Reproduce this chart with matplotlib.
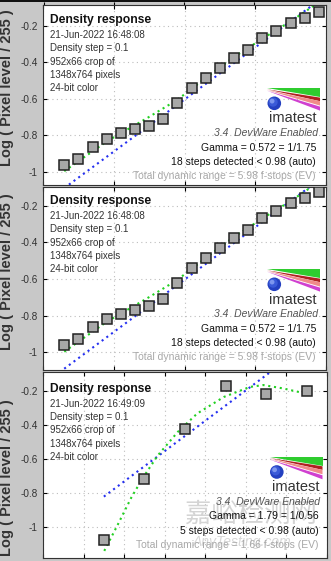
import matplotlib
matplotlib.use("Agg")
import matplotlib.pyplot as plt
from matplotlib.patches import Polygon, Ellipse
from matplotlib.ticker import FuncFormatter

plt.rcParams['font.family'] = ['Liberation Sans', 'DejaVu Sans']

W, H = 331, 561

# 18-step run (two identical screenshots): log exposure vs log pixel level
dens_a = [-1.85, -1.75, -1.65, -1.55, -1.45, -1.35, -1.25, -1.15, -1.05, -0.95,
          -0.85, -0.75, -0.65, -0.55, -0.45, -0.35, -0.25, -0.15, -0.05]
level_a = [-0.961, -0.930, -0.863, -0.820, -0.790, -0.768, -0.747, -0.711, -0.623,
           -0.540, -0.488, -0.430, -0.378, -0.332, -0.268, -0.230, -0.185, -0.157, -0.125]
green_a_x = [-1.85, -1.552, -1.267, -1.052, -0.838, -0.648, -0.433, -0.243, -0.088, -0.06]
green_a_y = [-0.997, -0.835, -0.707, -0.606, -0.478, -0.369, -0.262, -0.171, -0.090, -0.075]
blue_a_x = [-1.85, -0.02]
blue_a_y = [-1.090, -0.043]

# 5-step run
dens_b = [-0.55, -0.45, -0.35, -0.25, -0.15, -0.05]
level_b = [-1.079, -0.721, -0.421, -0.169, -0.218, -0.200]
green_b_x = [-0.549, -0.515, -0.482, -0.453, -0.417, -0.368, -0.320, -0.254,
             -0.190, -0.157, -0.108, -0.060]
green_b_y = [-1.142, -0.984, -0.826, -0.708, -0.579, -0.441, -0.332, -0.234,
             -0.175, -0.164, -0.184, -0.210]
blue_b_x = [-0.55, -0.14]
blue_b_y = [-0.822, -0.088]

stamps = ["21-Jun-2022 16:48:08", "21-Jun-2022 16:48:08", "21-Jun-2022 16:49:09"]
info_lines = ["Density step = 0.1", "952x66 crop of", "1348x764 pixels", "24-bit color"]
gammas = ["Gamma = 0.572 = 1/1.75", "Gamma = 0.572 = 1/1.75", "Gamma = 1.79 = 1/0.56"]
steps = ["18 steps detected < 0.98 (auto)", "18 steps detected < 0.98 (auto)",
         "5 steps detected < 0.98 (auto)"]
ranges = ["Total dynamic range = 5.98 f-stops (EV)", "Total dynamic range = 5.98 f-stops (EV)",
          "Total dynamic range = 1.66 f-stops (EV)"]
yticks = [-1, -0.8, -0.6, -0.4, -0.2]


def fx(x):
    return x / W


def fy(y):
    return 1 - y / H


fig = plt.figure(figsize=(W / 100, H / 100), dpi=100, facecolor='#c8c8c8')

# edge of the plot above, cut off by the screenshot
top = fig.add_axes([0, fy(1.5), 1, 1.5 / H], facecolor='#111111')
top.set_xlim(0, W)
top.set_xticks([44, 114, 184, 254])
top.set_yticks([])
top.tick_params(direction='out', length=3, width=0.8, labelbottom=False)
for s in top.spines.values():
    s.set_visible(False)

panels = [
    dict(box=(43, 5, 326, 185), xlim=(-2, 0), xt=[-2, -1.5, -1, -0.5, 0], ylim=(-1.073, -0.085),
         x=dens_a, y=level_a, gx=green_a_x, gy=green_a_y, bx=blue_a_x, by=blue_a_y,
         dx=0, dy=0, ylab=88),
    dict(box=(43, 187, 326, 370), xlim=(-2, 0), xt=[-2, -1.5, -1, -0.5, 0], ylim=(-1.097, -0.098),
         x=dens_a, y=level_a, gx=green_a_x, gy=green_a_y, bx=blue_a_x, by=blue_a_y,
         dx=0, dy=181, ylab=272),
    dict(box=(43, 372, 327, 558), xlim=(-0.7, 0), xt=[-0.7, -0.6, -0.5, -0.4, -0.3, -0.2, -0.1, 0],
         ylim=(-1.184, -0.087),
         x=dens_b, y=level_b, gx=green_b_x, gy=green_b_y, bx=blue_b_x, by=blue_b_y,
         dx=2.5, dy=368.7, ylab=478),
]

# watermark on the last screenshot
fig.text(fx(251), fy(514), "嘉峪检测网", family=['Noto Sans CJK SC', 'DejaVu Sans'],
         fontsize=19, color='#d4d4d4', ha='center', va='center', zorder=2)
fig.text(fx(242), fy(542), "AnyTesting.com", fontsize=10, style='italic',
         color='#d8d8d8', ha='center', va='center', zorder=2)

for i, p in enumerate(panels):
    l, t, r, b = p['box']
    ax = fig.add_axes([fx(l), fy(b), (r - l) / W, (b - t) / H], facecolor='white')
    ax.set_xlim(*p['xlim'])
    ax.set_ylim(*p['ylim'])
    ax.set_xticks(p['xt'])
    ax.set_yticks(yticks)
    ax.yaxis.set_major_formatter(FuncFormatter(lambda v, pos: f"{round(v, 2):g}"))
    ax.tick_params(direction='in', length=3, width=0.8, top=True, right=True,
                   labelbottom=False, labelsize=7.2, labelcolor='#333333', pad=4)
    ax.grid(True, linestyle=(0, (1, 3)), color='#bdbdbd', linewidth=0.8)
    for s in ax.spines.values():
        s.set_color('#333333')
        s.set_linewidth(0.8)

    ax.plot(p['bx'], p['by'], color='#2530f0', linestyle=(0, (1, 1.8)), linewidth=1.5, zorder=2)
    ax.plot(p['gx'], p['gy'], color='#22d022', linestyle=(0, (1, 1.8)), linewidth=1.5, zorder=2)
    ax.plot(p['x'], p['y'], linestyle='none', marker='s', markersize=7,
            markerfacecolor='#a8a8a8', markeredgecolor='#222222', markeredgewidth=1.1, zorder=3)

    dx, dy = p['dx'], p['dy']
    fig.text(fx(7), fy(p['ylab']), "Log ( Pixel level / 255 )", rotation=90, ha='center',
             va='center', fontsize=10.5, fontweight='bold', color='#333333')

    fig.text(fx(50.5), fy(20 + dy), "Density response", fontsize=8.7, fontweight='bold',
             color='#111111', va='center')
    for k, line in enumerate([stamps[i]] + info_lines):
        fig.text(fx(50.5), fy(35 + 13.3 * k + dy), line, fontsize=7, color='#333333', va='center')

    fig.text(fx(318 + dx), fy(133.3 + dy), "3.4  DevWare Enabled", fontsize=7.5, style='italic',
             color='#555555', ha='right', va='center')
    fig.text(fx(316 + dx), fy(147.7 + dy), gammas[i], fontsize=7.5, color='#111111',
             ha='right', va='center')
    fig.text(fx(316 + dx), fy(162.3 + dy), steps[i], fontsize=7.5, color='#111111',
             ha='right', va='center')
    fig.text(fx(316 + dx), fy(176 + dy), ranges[i], fontsize=7.5, color='#a8a8a8',
             ha='right', va='center')

    # imatest logo
    wedges = [
        ('#2fcc2f', [(267, 88.3), (320, 88.3), (320, 97.3)]),
        ('#b02020', [(267, 89.3), (320, 97.6), (320, 101.2)]),
        ('#f08a8a', [(267, 90.0), (320, 101.2), (320, 105.6)]),
        ('#d040d0', [(267, 90.7), (320, 106.6), (320, 110.6)]),
    ]
    for c, pts in wedges:
        fig.add_artist(Polygon([(fx(px + dx), fy(py + dy)) for px, py in pts], closed=True,
                               facecolor=c, edgecolor='none', transform=fig.transFigure, zorder=3))
    for rad, off, c in [(6.8, 0, '#2440c0'), (4.6, -1.2, '#3a5ad8'), (2.4, -2.2, '#7d96ee')]:
        fig.add_artist(Ellipse((fx(274.3 + off + dx), fy(103.3 + off + dy)), 2 * rad / W, 2 * rad / H,
                               facecolor=c, edgecolor='none', transform=fig.transFigure, zorder=3))
    fig.text(fx(317 + dx), fy(122.5 + dy), "imatest", fontsize=10.5, color='#333333',
             ha='right', va='baseline')

fig.savefig("out.png", dpi=100, facecolor=fig.get_facecolor())
